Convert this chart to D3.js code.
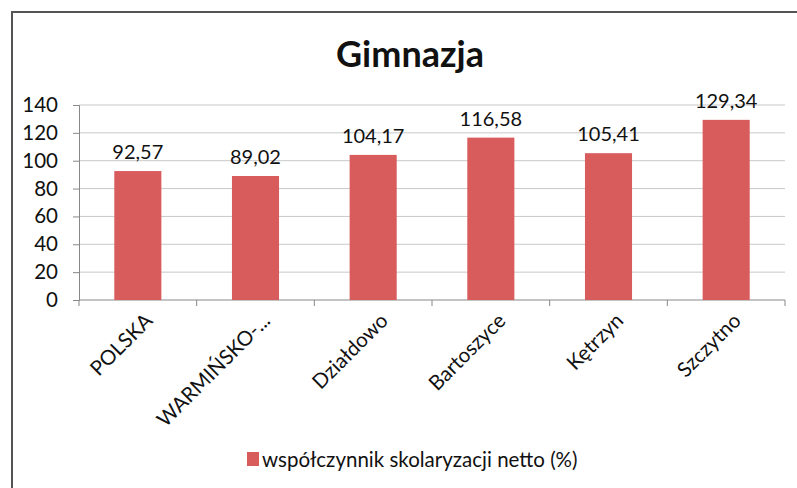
<html>
<head>
<meta charset="utf-8">
<script src="https://d3js.org/d3.v7.min.js"></script>
<style>
body { margin: 0; background: #fff; }
text { font-family: Lato, "Open Sans", sans-serif; }
</style>
</head>
<body>
<div id="chart"></div>
<script>
// data
const categories = ["POLSKA", "WARMIŃSKO-...", "Działdowo", "Bartoszyce", "Kętrzyn", "Szczytno"];
const values = [92.57, 89.02, 104.17, 116.58, 105.41, 129.34];
const yTicks = [0, 20, 40, 60, 80, 100, 120, 140];
const seriesName = "współczynnik skolaryzacji netto (%)";

const w = 797, h = 488;
const padL = 79, padR = 785, padT = 105, padB = 300;
const barColor = "#d95c5c";

const svg = d3.select("#chart").append("svg")
  .attr("width", w).attr("height", h);

// frame
svg.append("path")
  .attr("d", `M12,${h} L12,12 L${w},12`)
  .attr("fill", "none").attr("stroke", "#555").attr("stroke-width", 2);

const x = d3.scaleBand().domain(categories).range([padL, padR]).paddingInner(0.6).paddingOuter(0.3);
const y = d3.scaleLinear().domain([0, 140]).range([padB, padT]);

// gridlines
svg.append("g").selectAll("line")
  .data(yTicks.slice(1))
  .enter().append("line")
  .attr("x1", padL).attr("x2", padR)
  .attr("y1", d => y(d)).attr("y2", d => y(d))
  .attr("stroke", "#c8c8c8").attr("stroke-width", 1);

// y axis
const yAxis = d3.axisLeft(y).tickValues(yTicks).tickSize(6).tickPadding(6);
const gy = svg.append("g").attr("transform", `translate(${padL},0)`).call(yAxis);
gy.select(".domain").attr("stroke", "#888");
gy.selectAll(".tick line").attr("stroke", "#888");
gy.selectAll(".tick text").attr("font-size", 20.5).attr("fill", "#111").attr("x", -21);

// x axis line + ticks at category boundaries
const band = (padR - padL) / categories.length;
svg.append("line").attr("x1", padL).attr("x2", padR)
  .attr("y1", padB).attr("y2", padB).attr("stroke", "#888");
svg.append("g").selectAll("line")
  .data(d3.range(categories.length + 1))
  .enter().append("line")
  .attr("x1", i => padL + i * band).attr("x2", i => padL + i * band)
  .attr("y1", padB).attr("y2", padB + 6).attr("stroke", "#888");

// bars
svg.append("g").selectAll("rect")
  .data(values)
  .enter().append("rect")
  .attr("x", (d, i) => x(categories[i]))
  .attr("y", d => y(d))
  .attr("width", x.bandwidth())
  .attr("height", d => padB - y(d))
  .attr("fill", barColor);

// value labels
svg.append("g").selectAll("text")
  .data(values)
  .enter().append("text")
  .attr("x", (d, i) => x(categories[i]) + x.bandwidth() / 2)
  .attr("y", d => y(d) - 12)
  .attr("text-anchor", "middle")
  .attr("font-size", 20)
  .attr("fill", "#111")
  .text(d => d.toFixed(2).replace(".", ","));

// category labels
svg.append("g").selectAll("text")
  .data(categories)
  .enter().append("text")
  .attr("transform", d => `translate(${x(d) + x.bandwidth() / 2 + 16},${padB + 22}) rotate(-45)`)
  .attr("text-anchor", "end")
  .attr("font-size", 20.5)
  .attr("fill", "#111")
  .text(d => d);

// title
svg.append("text")
  .attr("x", 410).attr("y", 67)
  .attr("text-anchor", "middle")
  .attr("font-size", 36).attr("font-weight", "bold")
  .attr("fill", "#111")
  .text("Gimnazja");

// legend
const lg = svg.append("g").attr("transform", "translate(247,452)");
lg.append("rect").attr("width", 12).attr("height", 14).attr("fill", barColor);
lg.append("text").attr("x", 15).attr("y", 15)
  .attr("font-size", 20.5).attr("fill", "#111")
  .text(seriesName);
</script>
</body>
</html>
